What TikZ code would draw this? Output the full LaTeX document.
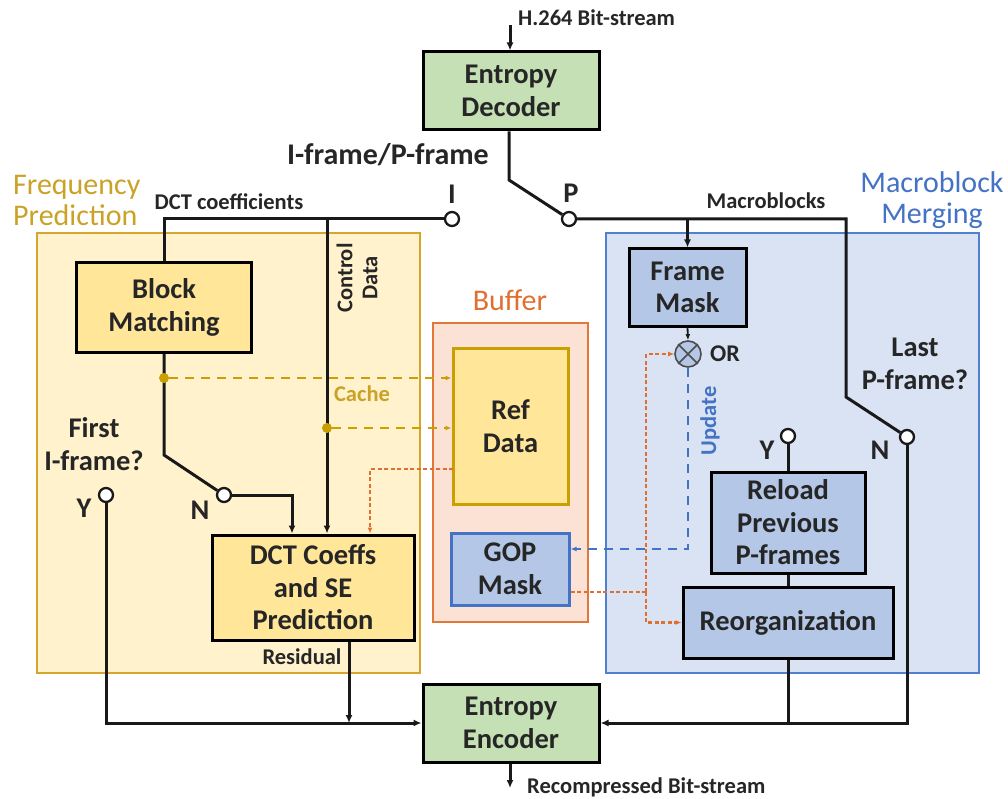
\documentclass[tikz,border=0pt]{standalone}
\usepackage{fontspec}
\setmainfont{Carlito}
\usetikzlibrary{arrows.meta,calc}
\definecolor{goldtxt}{HTML}{C9A227}
\definecolor{golddash}{HTML}{C9A000}
\definecolor{fpfill}{HTML}{FFF2CC}
\definecolor{fpdraw}{HTML}{D4A72C}
\definecolor{ybox}{HTML}{FFE699}
\definecolor{gbox}{HTML}{C5E0B4}
\definecolor{bufill}{HTML}{FBE2D5}
\definecolor{budraw}{HTML}{E2773A}
\definecolor{mmfill}{HTML}{DAE3F3}
\definecolor{mmdraw}{HTML}{4F81D0}
\definecolor{bbox}{HTML}{B4C7E7}
\definecolor{bdraw}{HTML}{4472C4}
\definecolor{orline}{HTML}{E07030}
\newcommand\bigtxt{\bfseries\fontsize{28.5}{32.5}\selectfont}
\newcommand\smalltxt{\bfseries\fontsize{22.5}{25}\selectfont}
\newcommand\titletxt{\fontsize{30}{31}\selectfont}
\begin{document}
\begin{tikzpicture}[x=1pt,y=-1pt,
  box/.style={draw=black,line width=3pt,align=center,inner sep=0pt,font=\bigtxt,text=black!85},
  grp/.style={line width=2.4pt},
  ln/.style={line width=3pt,black!90},
  arr/.style={-{Latex[length=8pt,width=7pt]}},
  arrs/.style={-{Latex[length=6pt,width=5pt]}},
  sw/.style={circle,draw=black!90,fill=white,line width=2.3pt,minimum size=14pt,inner sep=0pt},
  dotg/.style={circle,fill=golddash,minimum size=10pt,inner sep=0pt},
  gdash/.style={golddash,line width=2.2pt,dash pattern=on 9pt off 7pt},
  odash/.style={orline,line width=2.2pt,dash pattern=on 4pt off 2.5pt},
  bdash/.style={bdraw,line width=2.2pt,dash pattern=on 9pt off 7pt},
  lbl/.style={inner sep=0pt,font=\smalltxt,text=black!85},
  blbl/.style={inner sep=0pt,font=\bigtxt,align=center,text=black!85},
  ttl/.style={inner sep=0pt,font=\titletxt,align=center}]
\useasboundingbox (0,0) rectangle (1008,799);
% group boxes
\draw[grp,draw=fpdraw,fill=fpfill] (37,233) rectangle (420,673);
\draw[grp,draw=budraw,fill=bufill] (433,323) rectangle (588,622);
\draw[grp,draw=mmdraw,fill=mmfill] (606,233) rectangle (979,673);
% group titles
\node[ttl,text=goldtxt,align=left,anchor=west] (fpt) at (13,200) {Frequency\\Prediction};
\node[ttl,text=bdraw] (mmt) at (932,200) {Macroblock\\Merging};
\node[ttl,text=orline] (buft) at (510,300) {Buffer};
% boxes
\node[box,fill=gbox,minimum width=176,minimum height=78] (dec) at (511,91) {Entropy\\Decoder};
\node[box,fill=gbox,minimum width=176,minimum height=78] (enc) at (511,723) {Entropy\\Encoder};
\node[box,fill=ybox,minimum width=175,minimum height=89] (bm) at (164,307.5) {Block\\Matching};
\node[box,fill=ybox,minimum width=202,minimum height=105] (dct) at (313,587.5) {DCT Coeffs\\and SE\\Prediction};
\node[box,draw=golddash,fill=ybox,minimum width=115,minimum height=156] (ref) at (510.5,426) {Ref\\Data};
\node[box,draw=bdraw,fill=bbox,minimum width=118,minimum height=72] (gop) at (510,569) {GOP\\Mask};
\node[box,fill=bbox,minimum width=117,minimum height=77] (fm) at (687.5,287.5) {Frame\\Mask};
\node[box,fill=bbox,minimum width=154,minimum height=101] (rl) at (788,522.5) {Reload\\Previous\\P-frames};
\node[box,fill=bbox,minimum width=210,minimum height=71] (ro) at (788,622.5) {Reorganization};
% OR
\node[circle,draw=black!70,fill=bbox,line width=1.6pt,minimum size=26pt,inner sep=0pt] (or) at (688,354) {};
\draw[black!70,line width=1.6pt] (or.north east) -- (or.south west) (or.north west) -- (or.south east);
% switches
\node[sw] (iC) at (452,219) {};
\node[sw] (pC) at (569,219) {};
\node[sw] (nC) at (224,495) {};
\node[sw] (yC) at (106,495) {};
\node[sw] (y2C) at (788,436) {};
\node[sw] (n2C) at (907,437) {};
% input/output
\coordinate (in) at (510,25);
\draw[ln,arr] (in) -- (in |- dec.north);
\coordinate (out) at (510,788);
\draw[ln,arr] (enc.south -| out) -- (out);
% decoder switch
\draw[ln] (dec.south -| 509,0) -- (509,180) -- (pC);
% I branch
\draw[ln] (iC.west) -- (iC.west -| bm.north) -- (bm.north);
\coordinate (cd) at (327,219);
\draw[ln,arr] (cd) -- (cd |- dct.north);
\draw[ln] (bm.south) -- (164,455) -- (nC);
\draw[ln,arr] (nC.east) -| ($(dct.north)+(-21,0)$);
\draw[ln,arr] (yC.south) |- (enc.west);
\coordinate (rs) at ($(dct.south)+(36,0)$);
\draw[ln,arr] (rs) -- (rs |- enc.west);
% P branch
\draw[ln] (pC.east) -- (846,219) -- (846,397) -- (n2C);
\draw[ln,arr] (fm.north |- pC.east) -- (fm.north);
\draw[ln,arrs,line width=1.8pt] (fm.south) -- (or.north);
\draw[ln] (y2C.south) -- (rl.north);
\draw[ln] (rl.south) -- (ro.north);
\draw[ln,arr] (n2C.south) |- (enc.east);
\draw[ln] (ro.south) -- (ro.south |- enc.east);
% cache dashes
\node[dotg] (d1) at (164,378) {};
\node[dotg] (d2) at (327,428) {};
\draw[gdash,arrs] (d1) -- (d1 -| ref.west);
\draw[gdash,arrs] (d2) -- (d2 -| ref.west);
% orange
\coordinate (rw) at (453,469);
\draw[odash,arrs] (rw) -| ($(dct.north)+(57,0)$);
\coordinate (oj) at (646,592);
\draw[odash] (gop.east |- oj) -- (oj);
\draw[odash,arrs] (oj) |- (or.west);
\draw[odash,arrs] (oj) |- (ro.west);
% blue update
\coordinate (uc) at (688,549);
\draw[bdash,arrs] (or.south) -- (uc) -- (uc -| gop.east);
% labels
\node[lbl,anchor=west] (l1) at (518,18) {H.264 Bit-stream};
\node[blbl,font=\bfseries\fontsize{30}{32}\selectfont] (l2) at (388,155) {I-frame/P-frame};
\node[blbl] (l3) at (452,194) {I};
\node[blbl] (l4) at (571,193) {P};
\node[lbl] (l5) at (229,202) {DCT coefficients};
\node[lbl] (l6) at (766,201) {Macroblocks};
\node[lbl,align=center,rotate=90] (l7) at (357,278) {Control\\Data};
\node[lbl,text=goldtxt] (l8) at (362,394) {Cache};
\node[blbl] (l9) at (94,444) {First\\I-frame?};
\node[blbl] (l10) at (84,508) {Y};
\node[blbl] (l11) at (200,510) {N};
\node[lbl] (l12) at (302,657) {Residual};
\node[lbl,font=\bfseries\fontsize{24}{26}\selectfont] (l13) at (725,354) {OR};
\node[lbl,text=bdraw,rotate=90] (l14) at (710,421) {Update};
\node[blbl] (l15) at (915,364) {Last\\P-frame?};
\node[blbl] (l16) at (767,450) {Y};
\node[blbl] (l17) at (880,450) {N};
\node[lbl,anchor=west] (l18) at (527,787) {Recompressed Bit-stream};
\end{tikzpicture}
\end{document}
